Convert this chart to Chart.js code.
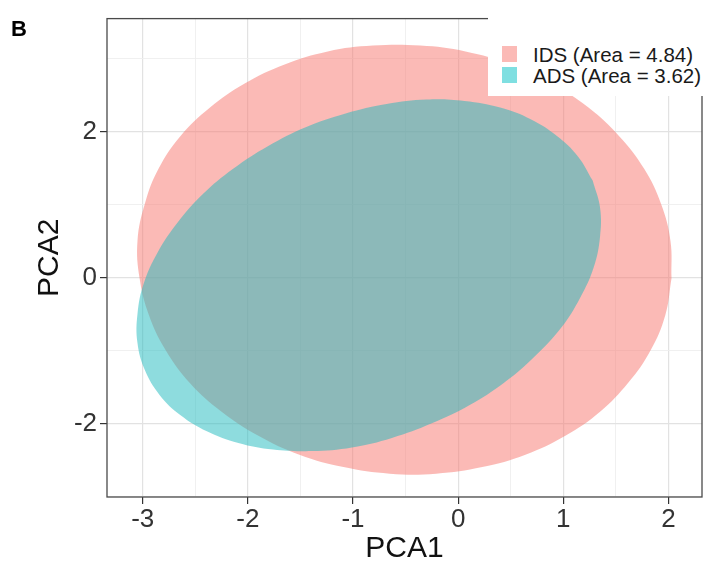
<!DOCTYPE html>
<html>
<head>
<meta charset="utf-8">
<script src="https://cdn.jsdelivr.net/npm/chart.js@4.4.1/dist/chart.umd.min.js"></script>
<style>
  html, body { margin: 0; padding: 0; background: #fff; }
  #wrap { position: relative; width: 707px; height: 562px; font-family: 'Liberation Sans', Arial, sans-serif; }
  #panelTag { position: absolute; left: 11px; top: 18px; font-size: 22px; font-weight: bold; line-height: 22px; color: #000; }
  #legendBox { position: absolute; left: 488px; top: 0; width: 219px; height: 96px; background: #fff; }
  .item { position: absolute; left: 14px; height: 21px; font-size: 20.5px; line-height: 21px; color: #1a1a1a; white-space: nowrap; }
  .item span { position: absolute; left: 0; top: 2px; width: 15px; height: 16px; }
  .item b { position: absolute; left: 31px; top: 0; font-weight: normal; }
</style>
</head>
<body>
<div id="wrap">
  <canvas id="pcaChart" width="707" height="562"></canvas>
  <div id="panelTag">B</div>
  <div id="legendBox"></div>
</div>
<script>
// groups and the outline of each ellipse (PCA1 / PCA2)
const groups = ['IDS (Area = 4.84)', 'ADS (Area = 3.62)'];

const idsX = [2.03, 1.97, 1.83, 1.62, 1.35, 1.02, 0.64, 0.23, -0.21, -0.65, -1.09, -1.51,
  -1.90, -2.25, -2.55, -2.78, -2.94, -3.03, -3.05, -2.98, -2.85, -2.64, -2.36, -2.03,
  -1.65, -1.24, -0.81, -0.36, 0.07, 0.50, 0.89, 1.24, 1.53, 1.77, 1.93, 2.02, 2.03];
const idsY = [-0.01, -0.52, -1.00, -1.44, -1.84, -2.17, -2.43, -2.60, -2.69, -2.69, -2.60, -2.43,
  -2.17, -1.84, -1.45, -1.00, -0.52, -0.01, 0.50, 1.01, 1.49, 1.94, 2.33, 2.66,
  2.92, 3.10, 3.18, 3.18, 3.10, 2.92, 2.66, 2.33, 1.94, 1.49, 1.01, 0.50, -0.01];

const adsX = [1.28, 1.35, 1.35, 1.29, 1.16, 0.98, 0.73, 0.44, 0.11, -0.25, -0.63, -1.01,
  -1.39, -1.76, -2.09, -2.39, -2.64, -2.84, -2.98, -3.05, -3.05, -2.99, -2.86, -2.67,
  -2.43, -2.14, -1.81, -1.45, -1.07, -0.68, -0.30, 0.06, 0.40, 0.69, 0.94, 1.14, 1.28];
const adsY = [1.33, 0.96, 0.56, 0.14, -0.28, -0.69, -1.08, -1.44, -1.75, -2.00, -2.20, -2.33,
  -2.38, -2.36, -2.27, -2.11, -1.89, -1.61, -1.27, -0.90, -0.50, -0.08, 0.34, 0.75,
  1.14, 1.49, 1.80, 2.06, 2.25, 2.38, 2.44, 2.42, 2.33, 2.17, 1.94, 1.66, 1.33];

// axis breaks
const xMajor = [-3, -2, -1, 0, 1, 2];
const xMinor = [-2.5, -1.5, -0.5, 0.5, 1.5];
const yMajor = [-2, 0, 2];
const yMinor = [-3, -1, 1, 3];

const fillColors = ['rgba(248,118,109,0.5)', 'rgba(30,186,190,0.5)'];
const keyColors = ['#fbbab6', '#7fdfe1'];

const toPoints = (xs, ys) => xs.map((x, i) => ({ x, y: ys[i] }));

// legend in the top right corner (white box over the panel)
const legendBox = document.getElementById('legendBox');
groups.forEach((g, i) => {
  const d = document.createElement('div');
  d.className = 'item';
  d.style.top = (44 + i * 21) + 'px';
  d.innerHTML = '<span style="background:' + keyColors[i] + '"></span><b>' + g + '</b>';
  legendBox.appendChild(d);
});

// frame around the panel
const panelBorder = {
  id: 'panelBorder',
  afterDatasetsDraw(chart) {
    const { ctx, chartArea: a } = chart;
    ctx.save();
    ctx.strokeStyle = '#4a4a4a';
    ctx.lineWidth = 1.3;
    ctx.strokeRect(a.left, a.top, a.right - a.left, a.bottom - a.top);
    ctx.restore();
  }
};

function axisOpts(major, minor, min, max, title) {
  const isMajor = c => major.includes(c.tick && c.tick.value);
  return {
    type: 'linear',
    min, max,
    afterBuildTicks(scale) {
      scale.ticks = major.concat(minor).sort((a, b) => a - b).map(v => ({ value: v }));
    },
    ticks: {
      autoSkip: false,
      maxRotation: 0,
      padding: 3,
      color: '#333',
      font: { size: 26 },
      callback: v => major.includes(v) ? String(v) : ''
    },
    grid: {
      color: c => isMajor(c) ? '#e2e2e2' : '#eeeeee',
      lineWidth: c => isMajor(c) ? 1.2 : 0.9,
      tickColor: c => isMajor(c) ? '#333' : 'rgba(0,0,0,0)',
      tickLength: 7
    },
    border: { display: false },
    title: { display: true, text: title, color: '#111', font: { size: 30, lineHeight: 0.8 } }
  };
}

const xOpts = axisOpts(xMajor, xMinor, -3.34, 2.32, 'PCA1');
xOpts.ticks.padding = 0;
xOpts.title.padding = { top: 0, bottom: 1 };
xOpts.afterFit = s => { s.height = 65; };

const yOpts = axisOpts(yMajor, yMinor, -3.01, 3.55, 'PCA2');
yOpts.title.padding = { top: 38, bottom: 0 };
yOpts.afterFit = s => { s.width = 107; };

new Chart(document.getElementById('pcaChart'), {
  type: 'line',
  data: {
    datasets: [
      { label: groups[0], data: toPoints(idsX, idsY), backgroundColor: fillColors[0], order: 2 },
      { label: groups[1], data: toPoints(adsX, adsY), backgroundColor: fillColors[1], order: 1 }
    ].map(d => Object.assign(d, {
      fill: 'shape',
      borderColor: 'rgba(0,0,0,0)',
      borderWidth: 1,
      pointRadius: 0,
      tension: 0.4
    }))
  },
  options: {
    responsive: false,
    animation: false,
    devicePixelRatio: 1,
    layout: { padding: { top: 18, right: 5, left: 0, bottom: 0 } },
    font: { family: "'Liberation Sans', Arial, sans-serif" },
    plugins: { legend: { display: false }, tooltip: { enabled: false } },
    scales: { x: xOpts, y: yOpts }
  },
  plugins: [panelBorder]
});
</script>
</body>
</html>
